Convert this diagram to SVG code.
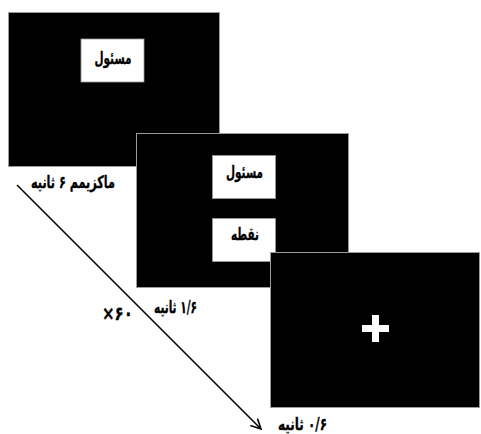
<svg xmlns="http://www.w3.org/2000/svg" width="481" height="434" viewBox="0 0 481 434">
<defs>
<style>
.panel{fill:#000;stroke:#9a9a9a;stroke-width:1}
.box{fill:#fff;stroke:#9a9a9a;stroke-width:0.8}
.t{font-family:"DejaVu Sans",sans-serif;font-weight:bold;font-size:17px;fill:#000;text-anchor:middle;stroke:#000;stroke-width:0.3}
.rtl{direction:rtl;unicode-bidi:embed}
.conn{stroke:#000;stroke-width:1.6;fill:none}
</style>
<marker id="ah" markerWidth="12" markerHeight="12" refX="10" refY="5" orient="auto" markerUnits="userSpaceOnUse">
<path d="M0,0 L10,5 L0,10" fill="none" stroke="#000" stroke-width="1.6"/>
</marker>
</defs>
<rect width="481" height="434" fill="#fff"/>
<g id="panel1">
<rect class="panel" x="8.5" y="12.5" width="211" height="154"/>
<rect class="box" x="81" y="39" width="63" height="43"/>
<text class="t rtl" direction="rtl" x="113" y="64" textLength="37" lengthAdjust="spacingAndGlyphs">مسئول</text>
</g>
<g id="panel2">
<rect class="panel" x="136.5" y="133.5" width="212" height="154"/>
<rect class="box" x="212.5" y="155.5" width="63" height="43"/>
<text class="t rtl" direction="rtl" x="244.5" y="178" textLength="37" lengthAdjust="spacingAndGlyphs">مسئول</text>
<rect class="box" x="212.5" y="218.5" width="63" height="43"/>
<text class="t rtl" direction="rtl" x="245" y="240" textLength="28" lengthAdjust="spacingAndGlyphs">نقطه</text>
</g>
<g id="panel3">
<rect class="panel" x="270.5" y="252.5" width="209" height="155"/>
<rect x="362" y="325" width="27" height="7" fill="#fff"/>
<rect x="372" y="315" width="7" height="27" fill="#fff"/>
</g>
<g id="connectors">
<line class="conn" x1="17" y1="185" x2="261" y2="429" marker-end="url(#ah)"/>
</g>
<g id="labels">
<text class="t rtl" direction="rtl" x="73" y="188" textLength="84" lengthAdjust="spacingAndGlyphs">ماکزیمم ۶ ثانیه</text>
<text class="t rtl" direction="rtl" x="175.5" y="313" textLength="43" lengthAdjust="spacingAndGlyphs">۱/۶ ثانیه</text>
<text class="t" x="117.5" y="320" style="font-size:19px" textLength="31" lengthAdjust="spacingAndGlyphs">×۶۰</text>
<text class="t rtl" direction="rtl" x="302.5" y="430" textLength="49" lengthAdjust="spacingAndGlyphs">۰/۶ ثانیه</text>
</g>
</svg>
